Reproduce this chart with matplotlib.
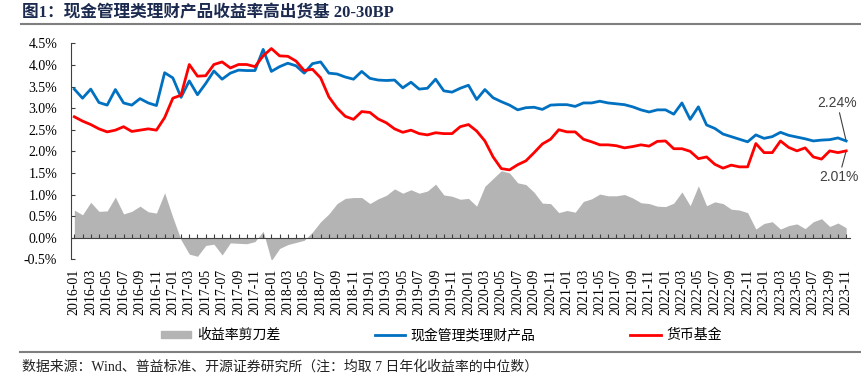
import numpy as np
import pandas as pd
import matplotlib
matplotlib.use("Agg")
import matplotlib.pyplot as plt
from matplotlib.lines import Line2D
from matplotlib.patches import Patch
from matplotlib.ticker import MultipleLocator, FuncFormatter

# monthly medians of 7-day annualised yield, 2016-01 .. 2023-11 (%)
months = list(pd.period_range("2016-01", "2023-11", freq="M").strftime("%Y-%m"))

wealth_cash = [
    3.44, 3.23, 3.44, 3.13, 3.07, 3.43, 3.12, 3.07, 3.22, 3.12, 3.06, 3.82,
    3.70, 3.25, 3.63, 3.31, 3.57, 3.86, 3.67, 3.81, 3.88, 3.87, 3.87, 4.36,
    3.85, 3.96, 4.04, 3.98, 3.81, 4.03, 4.07, 3.81, 3.79, 3.72, 3.67, 3.85,
    3.69, 3.65, 3.64, 3.65, 3.47, 3.60, 3.44, 3.46, 3.67, 3.40, 3.37, 3.46,
    3.53, 3.20, 3.43, 3.24, 3.15, 3.07, 2.96, 3.01, 3.02, 2.97, 3.07, 3.08,
    3.08, 3.04, 3.12, 3.12, 3.16, 3.12, 3.10, 3.08, 3.03, 2.96, 2.91, 2.96,
    2.96, 2.86, 3.12, 2.74, 3.03, 2.61, 2.53, 2.40, 2.34, 2.28, 2.22, 2.38,
    2.30, 2.34, 2.44, 2.37, 2.33, 2.29, 2.24, 2.26, 2.27, 2.31, 2.24,
]
money_fund = [
    2.80, 2.70, 2.62, 2.52, 2.45, 2.49, 2.57, 2.46, 2.49, 2.52, 2.49, 2.78,
    3.23, 3.30, 4.01, 3.74, 3.75, 4.01, 4.07, 3.93, 4.01, 4.01, 3.96, 4.21,
    4.38, 4.21, 4.20, 4.09, 3.87, 3.90, 3.70, 3.26, 3.00, 2.81, 2.74, 2.92,
    2.90, 2.75, 2.66, 2.52, 2.44, 2.49, 2.41, 2.38, 2.43, 2.41, 2.41, 2.57,
    2.62, 2.47, 2.24, 1.87, 1.60, 1.57, 1.69, 1.78, 1.97, 2.17, 2.28, 2.50,
    2.45, 2.45, 2.28, 2.22, 2.15, 2.15, 2.13, 2.08, 2.11, 2.15, 2.12, 2.23,
    2.24, 2.06, 2.06, 2.00, 1.83, 1.87, 1.70, 1.61, 1.68, 1.64, 1.64, 2.18,
    1.97, 1.97, 2.24, 2.09, 2.01, 2.08, 1.87, 1.82, 2.01, 1.97, 2.01,
]
spread = np.array(wealth_cash) - np.array(money_fund)

labels = ["收益率剪刀差", "现金管理类理财产品", "货币基金"]
title = "图1：现金管理类理财产品收益率高出货基 20-30BP"
source = "数据来源：Wind、普益标准、开源证券研究所（注：均取 7 日年化收益率的中位数）"

plt.rcParams["font.family"] = ["Liberation Serif", "Noto Sans CJK SC"]

fig = plt.figure(figsize=(8.62, 3.87), dpi=100)
ax = fig.add_axes([0.0824, 0.330, 0.904, 0.558])
x = np.arange(len(months))

ax.fill_between(x, 0, spread, color="#b4b4b4", lw=0)
ax.plot(x, wealth_cash, color="#0070c0", lw=2.0)
ax.plot(x, money_fund, color="#ff0000", lw=2.0)

ax.set_xlim(-0.4, len(months) - 0.5)
ax.set_ylim(-0.5, 4.5)
ax.yaxis.set_major_locator(MultipleLocator(0.5))
ax.yaxis.set_major_formatter(FuncFormatter(lambda v, p: f"{v:.1f}%"))
for s in ["top", "right"]:
    ax.spines[s].set_visible(False)
ax.spines["bottom"].set_position(("data", 0))
ax.spines["bottom"].set_color("#404040")
ax.spines["left"].set_color("#404040")
ax.set_xticks(x)
ax.tick_params(axis="x", direction="in", length=3, color="#404040", labelbottom=False)
ax.tick_params(axis="y", direction="in", length=3, color="#404040", labelsize=10, pad=10)

# month labels sit under the plot, not on the zero line
sec = ax.secondary_xaxis("bottom")
sec.set_xticks(x[::2], labels=months[::2], rotation=90)
sec.tick_params(length=0, labelsize=10, pad=7)
sec.spines["bottom"].set_visible(False)

# end-point labels
ax.annotate("2.24%", xy=(x[-1], wealth_cash[-1]), xytext=(-9, 38),
            textcoords="offset pixels", ha="center", va="center",
            fontsize=10, family="Liberation Sans", color="#404040",
            arrowprops=dict(arrowstyle="-", color="#404040", lw=0.8,
                            shrinkA=0, shrinkB=1))
ax.annotate("2.01%", xy=(x[-1], money_fund[-1]), xytext=(-7, -26),
            textcoords="offset pixels", ha="center", va="center",
            fontsize=10, family="Liberation Sans", color="#404040",
            arrowprops=dict(arrowstyle="-", color="#404040", lw=0.8,
                            shrinkA=0, shrinkB=1))

handles = [Patch(color="#b4b4b4"),
           Line2D([], [], color="#0070c0", lw=2.0),
           Line2D([], [], color="#ff0000", lw=2.0)]
fig.legend(handles, labels, loc="center", bbox_to_anchor=(0.512, 0.134),
           ncol=3, frameon=False, prop={"family": "Noto Sans CJK SC", "size": 10},
           handlelength=2.2, handleheight=0.4, handletextpad=0.4, columnspacing=6.8)

fig.text(0.026, 0.966, title, fontsize=12, fontweight="bold", color="#1b2a4e", va="center")
fig.add_artist(Line2D([0.024, 1.0], [0.937, 0.937], color="#7f7f7f", lw=1.5,
                      transform=fig.transFigure))
fig.add_artist(Line2D([0.023, 1.0], [0.090, 0.090], color="#7f7f7f", lw=1.5,
                      transform=fig.transFigure))
fig.text(0.025, 0.052, source, fontsize=10, color="#222222", va="center")

fig.savefig("out.png", dpi=100)
